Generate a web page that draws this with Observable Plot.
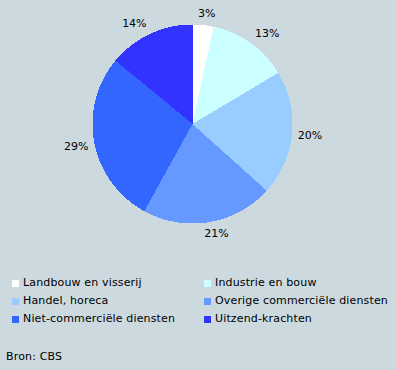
<!DOCTYPE html>
<html>
<head>
<meta charset="utf-8">
<script src="https://cdn.jsdelivr.net/npm/d3@7"></script>
<script src="https://cdn.jsdelivr.net/npm/@observablehq/plot@0.6"></script>
<style>
  html, body { margin: 0; padding: 0; background: #ccdae0; }
  body { width: 396px; height: 370px; position: relative; overflow: hidden; font-family: "DejaVu Sans", Verdana, sans-serif; font-size: 11px; color: #000; }
  #chart svg { display: block; background: #ccdae0; }
  .legend { position: absolute; left: 0; top: 276px; width: 396px; }
  .item { position: absolute; height: 14px; line-height: 14px; white-space: nowrap; }
  .sw { position: absolute; left: 0; top: 4px; width: 7px; height: 7px; }
  .lbl { position: absolute; left: 11px; top: 0; letter-spacing: 0.15px; }
  .caption { position: absolute; left: 6px; top: 350px; line-height: 14px; letter-spacing: 0.15px; }
</style>
</head>
<body>
<div id="chart"></div>
<div class="legend" id="legend"></div>
<div class="caption">Bron: CBS</div>
<script>
const categories = [
  "Landbouw en visserij",
  "Industrie en bouw",
  "Handel, horeca",
  "Overige commerciële diensten",
  "Niet-commerciële diensten",
  "Uitzend-krachten"
];
const values = [3.4, 13.0, 20.3, 21.3, 28.0, 14.0];
// printed slice labels
const valueLabels = ["3%", "13%", "20%", "21%", "29%", "14%"];
const colors = ["#ffffff", "#ccffff", "#99ccff", "#6699ff", "#3366ff", "#3333ff"];

const R = 99.5;
const arcs = d3.pie().sort(null)(values);

// slice polygons
const pts = [];
arcs.forEach((a, i) => {
  const cat = categories[i];
  pts.push({cat, x: 0, y: 0});
  const n = Math.max(4, Math.ceil((a.endAngle - a.startAngle) / 0.005));
  for (let k = 0; k <= n; k++) {
    const t = a.startAngle + (a.endAngle - a.startAngle) * k / n;
    pts.push({cat, x: Math.sin(t), y: Math.cos(t)});
  }
  pts.push({cat, x: 0, y: 0});
});

// label positions outside the pie
const clamp = t => Math.max(-1, Math.min(1, t));
const labelData = arcs.map((a, i) => {
  const m = (a.startAngle + a.endAngle) / 2;
  const hw = valueLabels[i].length * 4.2, hh = 4.5;
  const pad = 5 + 2 * Math.abs(Math.cos(m));
  const r = 1 + pad / R;
  const px = r * Math.sin(m), py = r * Math.cos(m);
  return {
    label: valueLabels[i],
    x: px + hw * clamp(3 * Math.sin(m)) / R,
    y: py + hh * clamp(3 * Math.cos(m)) / R
  };
});

const plot = Plot.plot({
  width: 396,
  height: 270,
  marginLeft: 92,
  marginRight: 104,
  marginTop: 24,
  marginBottom: 47,
  x: {domain: [-1, 1], axis: null},
  y: {domain: [-1, 1], axis: null},
  color: {type: "ordinal", domain: categories, range: colors},
  style: {background: "#ccdae0", fontFamily: "DejaVu Sans, Verdana, sans-serif", fontSize: "11px", color: "#000"},
  marks: [
    Plot.line(pts, {x: "x", y: "y", z: "cat", fill: "cat", stroke: "none", curve: "linear", shapeRendering: "crispEdges"}),
    Plot.text(labelData, {x: "x", y: "y", text: "label", fill: "#000", fontSize: 11, textAnchor: "middle"})
  ]
});
document.getElementById("chart").appendChild(plot);

const legend = document.getElementById("legend");
categories.forEach((c, i) => {
  const col = i % 2, row = Math.floor(i / 2);
  const item = document.createElement("div");
  item.className = "item";
  item.style.left = (col === 0 ? 12 : 204) + "px";
  item.style.top = (row * 18) + "px";
  const sw = document.createElement("div");
  sw.className = "sw";
  sw.style.background = colors[i];
  const lb = document.createElement("div");
  lb.className = "lbl";
  lb.textContent = c;
  item.appendChild(sw);
  item.appendChild(lb);
  legend.appendChild(item);
});
</script>
</body>
</html>
